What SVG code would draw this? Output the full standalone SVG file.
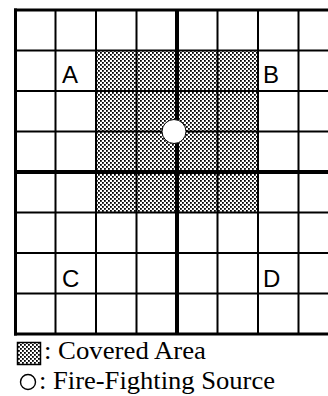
<svg xmlns="http://www.w3.org/2000/svg" width="328" height="396" viewBox="0 0 328 396">
<style>
.thin{stroke:#000;stroke-width:2;fill:none}
.thick{stroke:#000;stroke-width:4;fill:none}
.lbl{font-family:"Liberation Sans",Arial,sans-serif;font-size:24px;fill:#000}
.leg{font-family:"Liberation Serif","Times New Roman",serif;font-size:25px;fill:#000}
</style>
<defs>
<pattern id="dots" patternUnits="userSpaceOnUse" width="4" height="4">
<rect width="4" height="4" fill="#fff"/>
<rect x="0" y="0" width="1.8" height="1.8" fill="#000"/>
<rect x="2" y="2" width="1.8" height="1.8" fill="#000"/>
</pattern>
</defs>
<rect width="328" height="396" fill="#fff"/>
<g id="covered-area">
<rect x="96" y="50.5" width="162" height="162" fill="url(#dots)"/>
</g>
<g id="grid">
<line class="thin" x1="55.5" y1="10" x2="55.5" y2="334"/>
<line class="thin" x1="96" y1="10" x2="96" y2="334"/>
<line class="thin" x1="136.5" y1="10" x2="136.5" y2="334"/>
<line class="thick" x1="177" y1="10" x2="177" y2="334"/>
<line class="thin" x1="217.5" y1="10" x2="217.5" y2="334"/>
<line class="thin" x1="258" y1="10" x2="258" y2="334"/>
<line class="thin" x1="298.5" y1="10" x2="298.5" y2="334"/>
<line class="thin" x1="15" y1="50.5" x2="328" y2="50.5"/>
<line class="thin" x1="15" y1="91" x2="328" y2="91"/>
<line class="thin" x1="15" y1="131.5" x2="328" y2="131.5"/>
<line class="thick" x1="15" y1="172" x2="328" y2="172"/>
<line class="thin" x1="15" y1="212.5" x2="328" y2="212.5"/>
<line class="thin" x1="15" y1="253" x2="328" y2="253"/>
<line class="thin" x1="15" y1="293.5" x2="328" y2="293.5"/>
<line stroke="#000" stroke-width="3" x1="14" y1="10" x2="328" y2="10"/>
<line stroke="#000" stroke-width="3" x1="15.5" y1="8.5" x2="15.5" y2="335.5"/>
<line stroke="#000" stroke-width="3" x1="14" y1="334" x2="328" y2="334"/>
</g>
<g id="source">
<circle cx="174" cy="131.5" r="12" fill="#fff" stroke="#000" stroke-width="1"/>
</g>
<g id="labels">
<text class="lbl" x="62" y="83">A</text>
<text class="lbl" x="263" y="83">B</text>
<text class="lbl" x="62" y="287">C</text>
<text class="lbl" x="263" y="287">D</text>
</g>
<g id="legend">
<rect x="17.5" y="342.5" width="23" height="22" fill="url(#dots)" stroke="#000" stroke-width="1.5"/>
<text class="leg" x="44" y="359" textLength="162" lengthAdjust="spacingAndGlyphs">: Covered Area</text>
<circle cx="28" cy="382" r="7.5" fill="#fff" stroke="#000" stroke-width="1.4"/>
<text class="leg" x="39" y="389" textLength="236" lengthAdjust="spacingAndGlyphs">: Fire-Fighting Source</text>
</g>
</svg>
